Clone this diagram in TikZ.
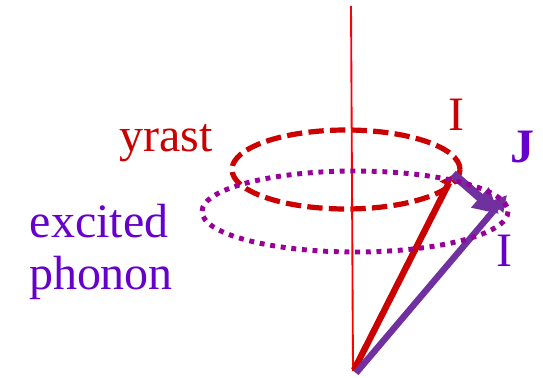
\documentclass[tikz,border=0pt]{standalone}
\usepackage{fontspec}
\setmainfont{Liberation Serif}
\usetikzlibrary{arrows.meta}
\definecolor{cred}{RGB}{204,0,0}
\definecolor{cpurple}{RGB}{112,48,160}
\definecolor{cmag}{RGB}{153,0,153}
\definecolor{cviolet}{RGB}{102,0,204}
\tikzset{lab/.style={inner sep=0pt,font=\fontsize{36}{38}\selectfont}}
\begin{document}
\begin{tikzpicture}[x=1pt,y=-1pt,scale=0.75]
\useasboundingbox (0,0) rectangle (543,378);
\coordinate (rbase) at (354,370);
\coordinate (pbase) at (356,373);
\coordinate (lbase) at (353,371);
\coordinate (top) at (351,6);
\coordinate (rtip) at (454,173);
\coordinate (jstart) at (453,174);
\coordinate (ptip) at (507,195);
\coordinate (jtip) at (499,214);
\draw[cred,line width=3.9pt,dash pattern=on 11.5pt off 4.7pt] (346,169.5) ellipse [x radius=114,y radius=39.5];
\draw[red,line width=1.4pt] (top) -- (lbase);
\draw[cred,line width=4.8pt,-{Triangle[length=9pt,width=13pt,left]}] (rbase) -- (rtip);
\draw[cpurple,line width=4.8pt,-{Triangle[length=12pt,width=12pt]}] (pbase) -- (ptip);
\draw[cpurple,line width=6.5pt,-{Triangle[length=19pt,width=19pt]}] (jstart) -- (jtip);
\draw[cmag,line width=3.7pt,dash pattern=on 3.7pt off 4.3pt] (355,211.5) ellipse [x radius=153,y radius=40.5];
\node[lab,text=cred] (yrast) at (166,143) {yrast};
\node[lab,text=cviolet] (exc) at (99,221) {excited};
\node[lab,text=cviolet] (ph) at (101,278) {phonon};
\node[lab,text=cred] (i1) at (456,115) {I};
\node[lab,text=cviolet] (i2) at (504,251) {I};
\node[lab,text=cviolet,font=\fontsize{36}{38}\selectfont\bfseries] (j) at (522,147) {J};
\end{tikzpicture}
\end{document}
